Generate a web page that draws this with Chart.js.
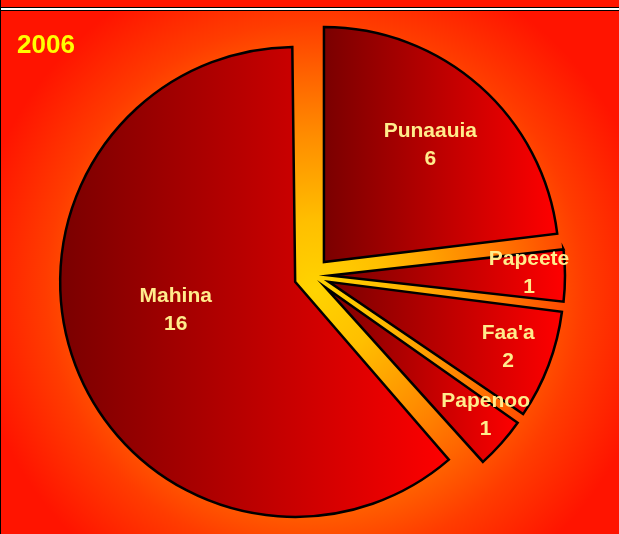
<!DOCTYPE html>
<html>
<head>
<meta charset="utf-8">
<script src="https://cdn.jsdelivr.net/npm/chart.js@4/dist/chart.umd.min.js"></script>
<style>
html,body{margin:0;padding:0;background:#fff;overflow:hidden}
#wrap{width:619px;height:534px;position:relative}
canvas{display:block}
</style>
</head>
<body>
<div id="wrap"><canvas id="c" width="619" height="534"></canvas></div>
<script>
// ---- data ----
const categories = ['Punaauia', 'Papeete', "Faa'a", 'Papenoo', 'Mahina'];
const values = [6, 1, 2, 1, 16];
const yearLabel = '2006';

// ---- style ----
const PIE_RADIUS = 235;      // drawn outer radius (px)
const EXPLODE = 18;          // distance every slice is pulled out (px)
const labelFrac = [0.676, 0.847, 0.811, 0.868, 0.521];   // label distance / radius
const labelTurn = [0.5, -1.1, -1.0, -3.3, 8.1];           // label angle tweak (deg)
const LABEL_FONT = 'bold 21px "Liberation Sans", Arial, sans-serif';
const LABEL_COLOR = '#ffec8c';

const total = values.reduce((a, b) => a + b, 0);
function sliceAngles(i) {
  let before = 0;
  for (let k = 0; k < i; k++) before += values[k];
  const a0 = -Math.PI / 2 + before / total * 2 * Math.PI;
  const a1 = a0 + values[i] / total * 2 * Math.PI;
  return [a0, a1];
}
function radiusFix(i) {
  const c = values[i] / total * 2 * Math.PI;
  return 1 - Math.sin(Math.min(Math.PI, c));
}

function sliceGradient(ctx) {
  const chart = ctx.chart;
  const area = chart.chartArea;
  if (!area) return '#c00000';
  const cx = (area.left + area.right) / 2;
  const cy = (area.top + area.bottom) / 2;
  const [a0, a1] = sliceAngles(ctx.dataIndex);
  const xs = [cx, cx + PIE_RADIUS * Math.cos(a0), cx + PIE_RADIUS * Math.cos(a1)];
  for (let k = -4; k <= 8; k++) {
    const a = k * Math.PI / 2;
    if (a > a0 && a < a1) xs.push(cx + PIE_RADIUS * Math.cos(a));
  }
  const g = chart.ctx.createLinearGradient(Math.min(...xs), 0, Math.max(...xs), 0);
  g.addColorStop(0, '#7a0000');
  g.addColorStop(1, '#ff0000');
  return g;
}

const backgroundPlugin = {
  id: 'bgFill',
  beforeDraw(chart) {
    const c = chart.ctx, w = chart.width, h = chart.height;
    c.save();
    const g = c.createRadialGradient(315, 290, 0, 315, 290, 345);
    g.addColorStop(0, '#ffd400');
    g.addColorStop(0.2, '#ffbf00');
    g.addColorStop(0.45, '#ff8c00');
    g.addColorStop(0.62, '#ff6400');
    g.addColorStop(0.78, '#ff3c00');
    g.addColorStop(1, '#ff1400');
    c.fillStyle = g;
    c.fillRect(0, 0, w, h);
    c.fillStyle = '#ff1500';
    c.fillRect(0, 0, w, 7);
    c.fillStyle = '#000';
    c.fillRect(0, 7, w, 1);
    c.fillStyle = '#fff';
    c.fillRect(0, 8, w, 2);
    c.fillStyle = '#000';
    c.fillRect(0, 10, w, 1);
    c.fillRect(0, 0, 1, h);
    c.restore();
  }
};

const radiusPlugin = {
  id: 'evenRadius',
  afterDatasetUpdate(chart, args) {
    const meta = chart.getDatasetMeta(args.index);
    meta.data.forEach((arc, i) => {
      arc.outerRadius = PIE_RADIUS - (EXPLODE) * radiusFix(i);
    });
  }
};

const labelPlugin = {
  id: 'sliceLabels',
  afterDatasetsDraw(chart) {
    const c = chart.ctx;
    const meta = chart.getDatasetMeta(0);
    c.save();
    c.font = LABEL_FONT;
    c.fillStyle = LABEL_COLOR;
    c.textAlign = 'center';
    c.textBaseline = 'alphabetic';
    meta.data.forEach((arc, i) => {
      const mid = (arc.startAngle + arc.endAngle) / 2;
      const ax = arc.x + EXPLODE * Math.cos(mid);
      const ay = arc.y + EXPLODE * Math.sin(mid);
      const a = mid + labelTurn[i] * Math.PI / 180;
      const rho = labelFrac[i] * PIE_RADIUS;
      const lx = ax + rho * Math.cos(a);
      const ly = ay + rho * Math.sin(a);
      c.fillText(categories[i], lx, ly - 7);
      c.fillText(String(values[i]), lx, ly + 21);
    });
    c.font = 'bold 26px "Liberation Sans", Arial, sans-serif';
    c.fillStyle = '#ffff00';
    c.textAlign = 'left';
    c.fillText(yearLabel, 17, 53);
    c.restore();
  }
};

new Chart(document.getElementById('c'), {
  type: 'pie',
  data: {
    labels: categories,
    datasets: [{
      data: values,
      backgroundColor: sliceGradient,
      borderColor: '#000000',
      borderWidth: 2.5,
      borderJoinStyle: 'miter',
      offset: 4 * EXPLODE,
      hoverOffset: 4 * EXPLODE
    }]
  },
  options: {
    responsive: false,
    animation: false,
    events: [],
    radius: PIE_RADIUS,
    layout: { padding: { left: 5, right: 0, top: 17, bottom: 0 } },
    plugins: {
      legend: { display: false },
      title: { display: false },
      tooltip: { enabled: false }
    }
  },
  plugins: [backgroundPlugin, radiusPlugin, labelPlugin]
});
</script>
</body>
</html>
